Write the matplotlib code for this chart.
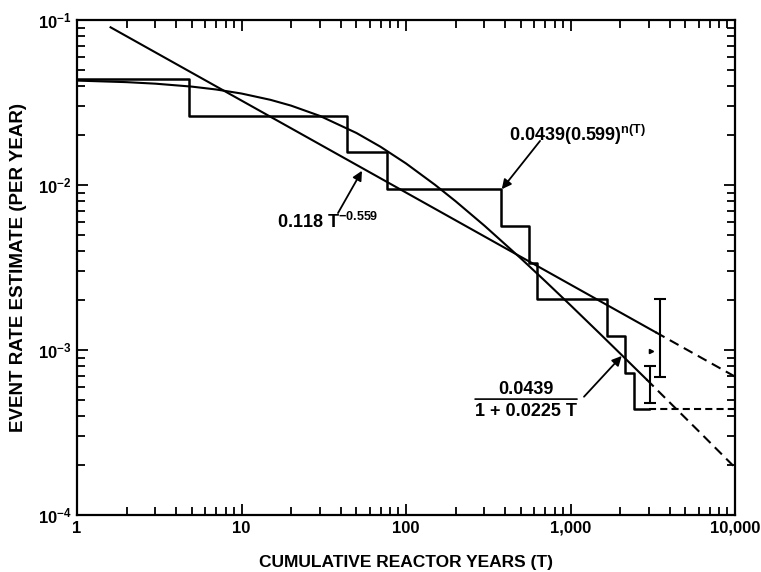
################################################ Import modules ########################################################

import matplotlib
matplotlib.use('Agg')
import matplotlib.pyplot as plt
from matplotlib.ticker import LogLocator, NullFormatter

##################################################### Data #######################################

# Step estimate 0.0439(0.599)^n(T): jump times (reactor years) and levels.
step_T = [1, 4.8, 44, 77, 380, 560, 625, 1670, 2140, 2430, 3000]
step_rate = [0.0439, 0.0263, 0.01575, 0.00943, 0.00565, 0.00339, 0.00203, 0.00122, 0.00073, 0.000436, 0.000436]
step_ext_T = [3000, 10000]
step_ext_rate = [0.000436, 0.000436]

# Power law 0.118 T^-0.559 (straight on log-log).
pow_T = [1.6, 3300]
pow_rate = [0.0903, 0.00128]
pow_ext_T = [3300, 10000]
pow_ext_rate = [0.00128, 0.00069]

# Hyperbolic 0.0439 / (1 + 0.0225 T).
hyp_T = [1, 2, 3, 5, 7, 10, 15, 20, 30, 50, 70, 100, 150, 200, 300, 500, 700, 1000, 1500, 2000, 2900]
hyp_rate = [0.04293, 0.04201, 0.04112, 0.03946, 0.03793, 0.03584, 0.03282, 0.03028, 0.02621, 0.02066,
            0.01705, 0.01351, 0.01003, 0.00798, 0.005665, 0.003584, 0.002621, 0.001868, 0.001263,
            0.000954, 0.000663]
hyp_ext_T = [2900, 4000, 6000, 10000]
hyp_ext_rate = [0.000663, 0.000482, 0.000323, 0.000194]

# Uncertainty bars at the end of the record.
bar_T = [3050, 3500]
bar_lo = [0.00048, 0.00069]
bar_hi = [0.00080, 0.00203]
mark_T = [3070]
mark_rate = [0.00099]

x_ticks = [1, 10, 100, 1000, 10000]
x_tick_labels = ['1', '10', '100', '1,000', '10,000']
y_ticks = [1e-4, 1e-3, 1e-2, 1e-1]
y_tick_labels = [r'$10^{-4}$', r'$10^{-3}$', r'$10^{-2}$', r'$10^{-1}$']

###################################################### Style ###########################################################

plt.rcParams['font.family'] = ['Liberation Sans', 'DejaVu Sans']
plt.rcParams['font.weight'] = 'bold'
plt.rcParams['mathtext.fontset'] = 'custom'
plt.rcParams['mathtext.rm'] = 'Liberation Sans:bold'
plt.rcParams['mathtext.it'] = 'Liberation Sans:bold'
plt.rcParams['mathtext.bf'] = 'Liberation Sans:bold'
plt.rcParams['mathtext.sf'] = 'Liberation Sans:bold'

long_dash = (0, (4.8, 2.9))
short_dash = (0, (3.4, 2.0))

###################################################### Plot ############################################################

fig = plt.figure(figsize=(7.61, 5.72), dpi=100)
ax = fig.add_axes([77 / 761, 1 - 515 / 572, (735 - 77) / 761, (515 - 20) / 572])
ax.set_xscale('log')
ax.set_yscale('log')

ax.step(step_T, step_rate, where='post', color='black', lw=1.8)
ax.plot(step_ext_T, step_ext_rate, color='black', lw=1.5, ls=short_dash)

ax.plot(pow_T, pow_rate, color='black', lw=1.5)
ax.plot(pow_ext_T, pow_ext_rate, color='black', lw=1.5, ls=long_dash)

ax.plot(hyp_T, hyp_rate, color='black', lw=1.5)
ax.plot(hyp_ext_T, hyp_ext_rate, color='black', lw=1.5, ls=long_dash)

for xi, lo, hi in zip(bar_T, bar_lo, bar_hi):
    mid = (lo * hi) ** 0.5
    ax.errorbar([xi], [mid], yerr=[[mid - lo], [hi - mid]],
                fmt='none', ecolor='black', elinewidth=1.5, capsize=4, capthick=1.5)
ax.plot(mark_T, mark_rate, ls='none', marker='>', ms=3, color='black')

ax.set_xlim(1, 10000)
ax.set_ylim(1e-4, 1e-1)
ax.set_xticks(x_ticks, x_tick_labels)
ax.set_yticks(y_ticks, y_tick_labels)
ax.xaxis.set_minor_locator(LogLocator(base=10, subs=range(2, 10), numticks=20))
ax.yaxis.set_minor_locator(LogLocator(base=10, subs=range(2, 10), numticks=20))
ax.xaxis.set_minor_formatter(NullFormatter())
ax.yaxis.set_minor_formatter(NullFormatter())
ax.tick_params(which='both', direction='in', top=True, right=True, width=1.3, labelsize=12)
ax.tick_params(which='major', length=8, pad=4)
ax.tick_params(which='minor', length=6)
for sp in ax.spines.values():
    sp.set_linewidth(1.6)

ax.set_xlabel('CUMULATIVE REACTOR YEARS (T)', fontsize=12.5, fontweight='bold', labelpad=14)
ax.set_ylabel('EVENT RATE ESTIMATE (PER YEAR)', fontsize=13.5, fontweight='bold', labelpad=8)

################################################## Annotations #########################################################

arrow = dict(arrowstyle='-|>', color='black', lw=1.3, mutation_scale=14, shrinkA=0, shrinkB=0)

ax.text(1111, 0.0201, r'0.0439(0.599)$^{\mathregular{n(T)}}$', fontsize=13, ha='center', va='center')
ax.annotate('', xy=(382, 0.00943), xytext=(653, 0.0185), arrowprops=arrow)

ax.text(33.6, 0.00597, r'0.118 T$^{\mathregular{-0.559}}$', fontsize=13, ha='center', va='center')
ax.annotate('', xy=(54, 0.0122), xytext=(38.6, 0.00676), arrowprops=arrow)

ax.text(533, 0.000573, '0.0439', fontsize=13, ha='center', va='center')
ax.text(533, 0.000424, '1 + 0.0225 T', fontsize=13, ha='center', va='center')
ax.annotate('', xy=(1096, 0.000504), xytext=(263, 0.000504),
            arrowprops=dict(arrowstyle='-', color='black', lw=1.2, shrinkA=0, shrinkB=0))
ax.annotate('', xy=(2048, 0.00092), xytext=(1208, 0.000521), arrowprops=arrow)

fig.savefig('out.png', dpi=100)
print('Saved out.png')
